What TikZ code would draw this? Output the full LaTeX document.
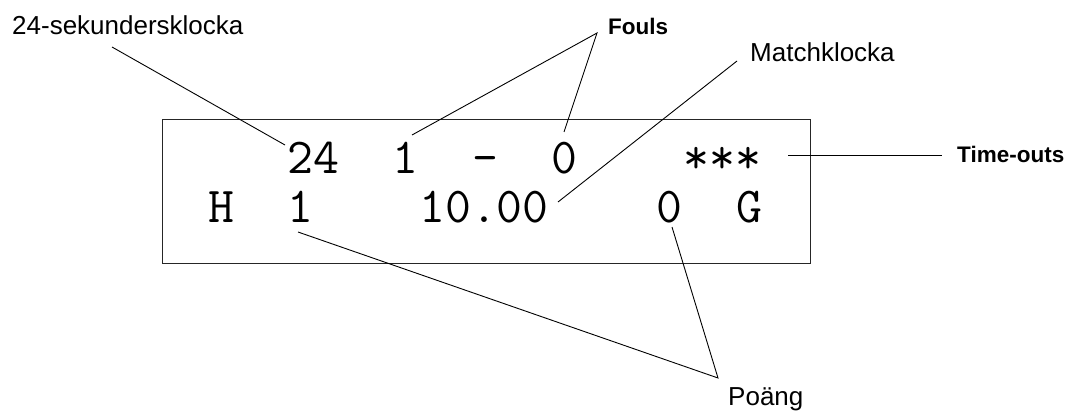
\documentclass[tikz,border=0pt]{standalone}
\usepackage{fontspec}
\setmainfont{Liberation Sans}
\begin{document}
\begin{tikzpicture}[x=1pt,y=-1pt,
  disp/.style={font=\ttfamily\fontsize{50.3}{50.3}\selectfont,anchor=base west,inner sep=0pt},
  lbl/.style={font=\fontsize{26}{26}\selectfont,anchor=base west,inner sep=0pt},
  blbl/.style={font=\bfseries\fontsize{22.5}{22.5}\selectfont,anchor=base west,inner sep=0pt},
  conn/.style={line width=0.9pt,black},
  frame/.style={line width=1.4pt,draw=black!85}]
\useasboundingbox (0,0) rectangle (1071,412);
% display frame
\node[frame,draw,minimum width=648pt,minimum height=144pt,inner sep=0pt,anchor=north west] (box) at (162,119) {};
% row 1
\def\cx#1{207.8+26.4*#1}
\node[disp] (shot) at ({\cx{3}},173) {24};
\node[disp] (foulH) at ({\cx{7}},173) {1};
\node[disp] (dash) at ({\cx{10}},173) {-};
\node[disp] (foulG) at ({\cx{13}},173) {0};
\node[disp] (tos) at ({\cx{18}},173) {***};
% row 2
\node[disp] (home) at ({\cx{0}},222) {H};
\node[disp] (ptsH) at ({\cx{3}},222) {1};
\node[disp] (clock) at ({\cx{8}},222) {10.00};
\node[disp] (ptsG) at ({\cx{17}},222) {0};
\node[disp] (guest) at ({\cx{20}},222) {G};
% labels
\node[lbl] (lsek) at (12,35) {24-sekundersklocka};
\node[blbl] (lfouls) at (608,35) {Fouls};
\node[lbl] (lmatch) at (750,62) {Matchklocka};
\node[blbl] (lto) at (957,162) {Time-outs};
\node[lbl] (lpoang) at (728,405) {Poäng};
% connector end points
\coordinate (sekA) at (112,47);
\coordinate (sekB) at (285,145);
\coordinate (foulApex) at (597,33);
\coordinate (foulB1) at (412,135);
\coordinate (foulB2) at (564,132);
\coordinate (matchA) at (737,61);
\coordinate (matchB) at (558,202);
\coordinate (toA) at (788,155);
\coordinate (toB) at (942,155);
\coordinate (poApex) at (718,378);
\coordinate (poB1) at (298,232);
\coordinate (poB2) at (672,227);
% connectors
\draw[conn] (sekA) -- (sekB);
\draw[conn] (foulB1) -- (foulApex) -- (foulB2);
\draw[conn] (matchA) -- (matchB);
\draw[conn] (toA) -- (toB);
\draw[conn] (poB1) -- (poApex) -- (poB2);
\end{tikzpicture}
\end{document}
